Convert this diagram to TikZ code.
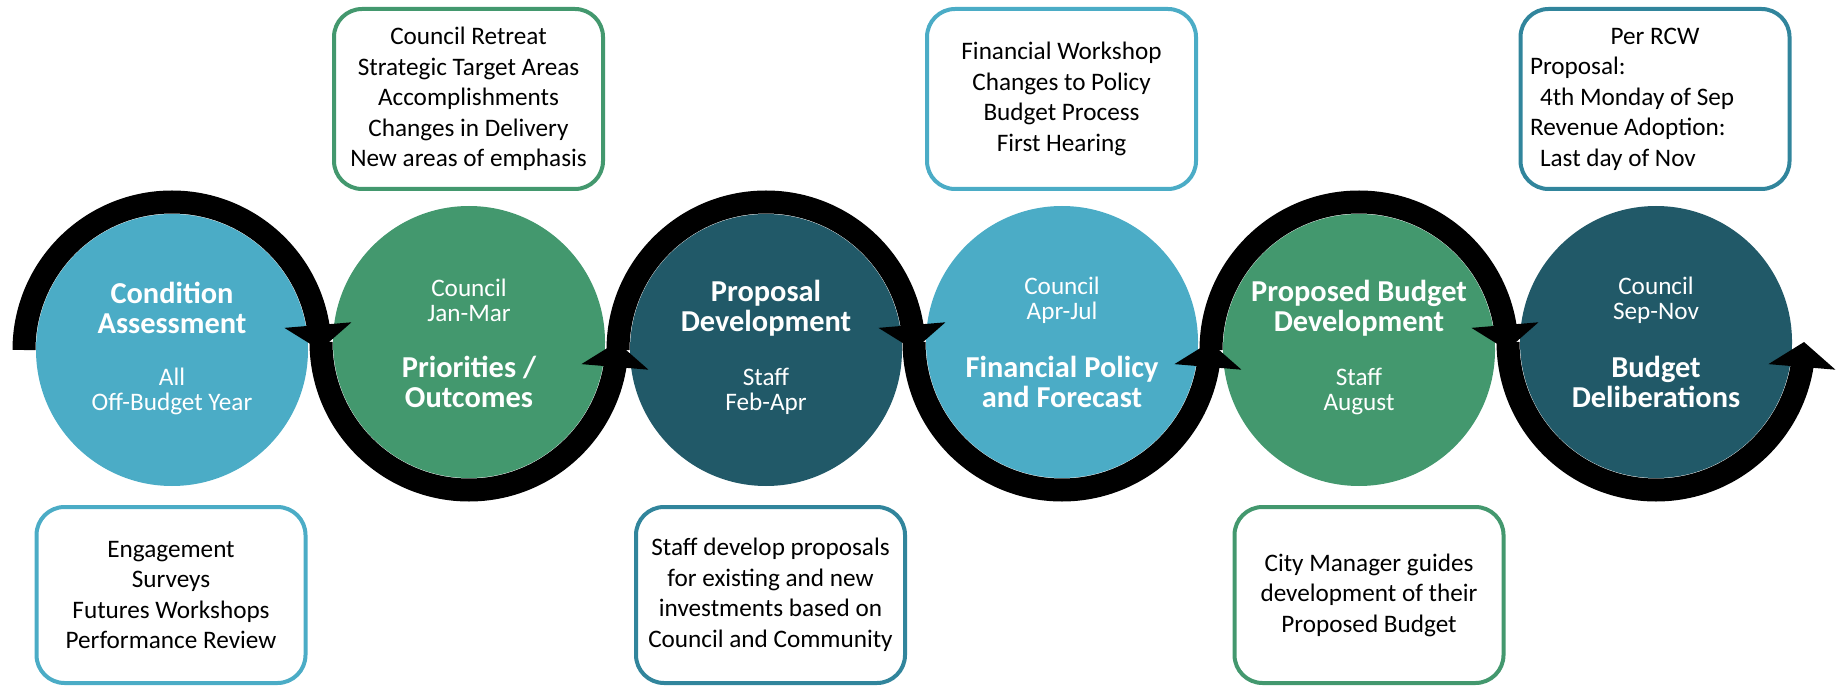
\documentclass[tikz,border=0pt]{standalone}
\usepackage{fontspec}
\setmainfont{Carlito}
\usetikzlibrary{arrows.meta,bending}

\definecolor{aqua}{HTML}{4BACC6}
\definecolor{leaf}{HTML}{43986E}
\definecolor{deepteal}{HTML}{215968}
\definecolor{midteal}{HTML}{31859C}

\begin{document}
\begin{tikzpicture}[x=0.5pt,y=0.5pt]
    \tikzstyle{stage}=[circle, minimum size=136pt, inner sep=0pt]
    \tikzstyle{heading}=[text=white, align=center, inner sep=0pt, font=\bfseries\fontsize{15.2pt}{15pt}\selectfont]
    \tikzstyle{period}=[text=white, align=center, inner sep=0pt, font=\fontsize{12.6pt}{12.5pt}\selectfont]
    \tikzstyle{note}=[draw, line width=2pt, rounded corners=14pt, minimum width=134.5pt, inner sep=0pt, align=center, font=\fontsize{12.6pt}{15.25pt}\selectfont]
    \tikzstyle{band}=[line width=11.5pt, -{Triangle[width=33pt,length=12.5pt]}]

    \useasboundingbox (0,0) rectangle (1839,686);

    \node[stage, fill=aqua] (c1) at (172,336) {};
    \node[stage, fill=leaf] (c2) at (469,344) {};
    \node[stage, fill=deepteal] (c3) at (766,336) {};
    \node[stage, fill=aqua] (c4) at (1062,344) {};
    \node[stage, fill=leaf] (c5) at (1359,336) {};
    \node[stage, fill=deepteal] (c6) at (1656,344) {};

    \coordinate (s1) at (24,336);
    \coordinate (s2) at (321,344);
    \coordinate (s3) at (618,336);
    \coordinate (s4) at (914,344);
    \coordinate (s5) at (1211,336);
    \coordinate (s6) at (1508,344);

    \draw[band] (s1) arc[start angle=180, end angle=0, radius=148];
    \draw[band] (s2) arc[start angle=180, end angle=360, radius=148];
    \draw[band] (s3) arc[start angle=180, end angle=0, radius=148];
    \draw[band] (s4) arc[start angle=180, end angle=360, radius=148];
    \draw[band] (s5) arc[start angle=180, end angle=0, radius=148];
    \draw[band] (s6) arc[start angle=180, end angle=360, radius=148];

    \node[heading] (h1) at (172,378) {Condition\\Assessment};
    \node[period] (p1) at (172,295) {All\\Off-Budget Year};
    \node[period] (p2) at (469,386) {Council\\Jan-Mar};
    \node[heading] (h2) at (469,304) {Priorities /\\Outcomes};
    \node[heading] (h3) at (766,378) {Proposal\\Development};
    \node[period] (p3) at (766,295) {Staff\\Feb-Apr};
    \node[period] (p4) at (1062,386) {Council\\Apr-Jul};
    \node[heading] (h4) at (1062,304) {Financial Policy\\and Forecast};
    \node[heading] (h5) at (1359,378) {Proposed Budget\\Development};
    \node[period] (p5) at (1359,295) {Staff\\August};
    \node[period] (p6) at (1656,386) {Council\\Sep-Nov};
    \node[heading] (h6) at (1656,304) {Budget\\Deliberations};

    \node[note, draw=aqua, minimum height=88pt] (b1) at (171,91)
      {Engagement\\Surveys\\Futures Workshops\\Performance Review};
    \node[note, draw=leaf, minimum height=90pt] (b2) at (468.5,587)
      {Council Retreat\\Strategic Target Areas\\Accomplishments\\Changes in Delivery\\New areas of emphasis};
    \node[note, draw=midteal, minimum height=88pt] (b3) at (770.5,91)
      {Staff develop proposals\\for existing and new\\investments based on\\Council and Community};
    \node[note, draw=aqua, minimum height=90pt] (b4) at (1061.5,587)
      {Financial Workshop\\Changes to Policy\\Budget Process\\First Hearing};
    \node[note, draw=leaf, minimum height=88pt] (b5) at (1369,91)
      {City Manager guides\\development of their\\Proposed Budget};
    \node[note, draw=midteal, minimum height=90pt, text width=125pt, align=flush left] (b6) at (1655,587)
      {\mbox{}\hfill Per RCW\hfill\mbox{}\\Proposal:\\\hspace*{5pt}4th Monday of Sep\\Revenue Adoption:\\\hspace*{5pt}Last day of Nov};

\end{tikzpicture}
\end{document}
